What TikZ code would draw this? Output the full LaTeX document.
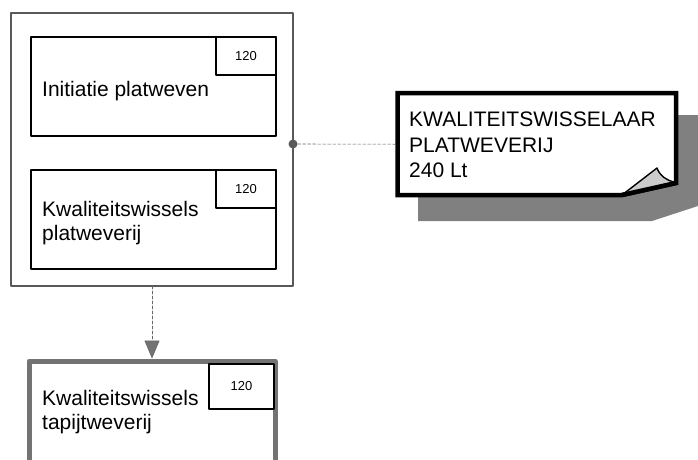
\documentclass[tikz,border=0pt]{standalone}
\usepackage{fontspec}
\setmainfont{Liberation Sans}
\usetikzlibrary{arrows.meta}

\begin{document}
\begin{tikzpicture}[line cap=round,line join=round,x=1pt,y=-1pt,
	groep/.style={draw=black!65,line width=1.6pt,anchor=north west,outer sep=0pt,inner sep=0pt},
	taak/.style={draw=black,line width=1.6pt,anchor=north west,outer sep=0pt,inner sep=0pt,minimum width=245pt,minimum height=99pt},
	duur/.style={draw=black,line width=1.3pt,fill=white,anchor=north east,outer sep=0pt,inner sep=0pt,minimum width=60pt,minimum height=38pt,font=\fontsize{13}{15}\selectfont},
	tekst/.style={anchor=base west,inner sep=0pt,align=left,font=\fontsize{21}{24}\selectfont},
	punt/.style={circle,fill=black!65,minimum size=9pt,inner sep=0pt},
	pijl/.style={draw=black!60,line width=0.7pt,densely dashed,-{Triangle[width=15pt,length=18pt,fill=black!55]}}]
		\useasboundingbox (0,0) rectangle (698,459);
		% groep met twee taken
		\node[groep,minimum width=282pt,minimum height=273pt] (group) at (11,13) {};
		\node[taak] (task1) at (31,37) {};
		\node[duur] (dur1) at (task1.north east) {120};
		\node[tekst] (t1) at (42,96.7) {Initiatie platweven};
		\node[taak] (task2) at (31,170) {};
		\node[duur] (dur2) at (task2.north east) {120};
		\node[tekst] (t2) at (42,240) {Kwaliteitswissels\\platweverij};
		% volgende taak
		\node[taak,draw=black!55,line width=5pt,outer sep=2.5pt,anchor=center,minimum width=246pt,minimum height=104pt] (task3) at (152,413) {};
		\node[duur,minimum width=65pt,minimum height=45pt] (dur3) at (274,364) {120};
		\node[tekst] (t3) at (42,429) {Kwaliteitswissels\\tapijtweverij};
		\draw[pijl] (group.south) -- (task3.north);
		% notitie
		\fill[black!50] (418,115) -- (701,115) -- (701,205) -- (652,221) -- (418,221) -- cycle;
		\node[anchor=north west,inner sep=0pt,minimum width=278.5pt,minimum height=102pt] (note) at (397.5,93) {};
		\draw[line width=4.5pt,fill=white,line join=miter,line cap=butt] (397.5,93) -- (676,93) -- (676,183) -- (622,195) -- (397.5,195) -- cycle;
		\draw[line width=1.4pt,fill=black!20] (622,195) -- (657,168) .. controls (660,176) and (666,180) .. (674,182) -- cycle;
		\draw[line width=4.5pt,line cap=butt] (622,195) -- (676,183);
		\node[tekst,font=\fontsize{21}{25.3}\selectfont] (t4) at (409,177.3) {KWALITEITSWISSELAAR\\PLATWEVERIJ\\240 Lt};
		% koppeling
		\node[punt] (haak) at (293,144) {};
		\draw[black!60,line width=0.6pt,densely dashed] (haak) -- (note.west);
		\end{tikzpicture}
\end{document}
